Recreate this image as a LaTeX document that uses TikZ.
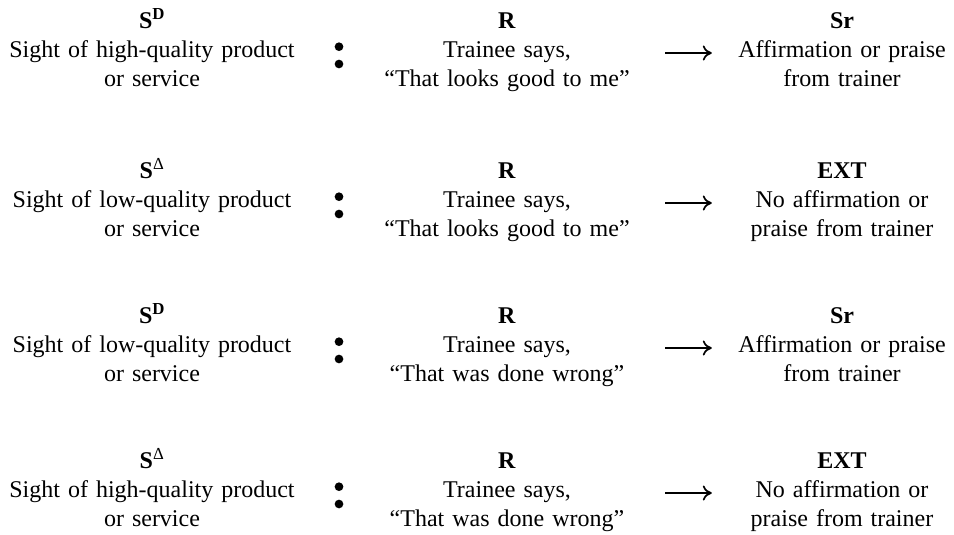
\documentclass[tikz,border=0pt]{standalone}
\usepackage{fontspec}
\setmainfont{Liberation Serif}
\usepackage{tikz}
\usetikzlibrary{arrows.meta}
\tikzset{t/.style={align=center,inner sep=0pt,anchor=north,text height=16pt,text depth=65pt,
  font=\fontsize{24}{28.8}\selectfont}}
\tikzset{sl/.style={t,text width=300pt}}
\tikzset{rl/.style={t,text width=260pt}}
\tikzset{cl/.style={t,text width=214pt}}
\tikzset{pt/.style={circle,fill,inner sep=0pt,minimum size=8.7pt}}
\tikzset{go/.style={-{To[length=9pt,width=15pt]},line width=1.7pt,shorten <=28pt,shorten >=23pt}}
\newcommand{\SD}{\textbf{S\textsuperscript{D}}}
\newcommand{\SDelta}{\textbf{S}\textsuperscript{Δ}}

\begin{document}
\begin{tikzpicture}[x=1pt,y=1pt]
      \useasboundingbox (0,0) rectangle (954,-535);
      % row 1
      \node[sl] (S1) at (152,-12.3) {\SD\\Sight of high-quality product\\or service};
      \node[rl] (R1) at (507,-12.3) {\textbf{R}\\Trainee says,\\“That looks good to me”};
      \node[cl] (C1) at (842,-12.3) {\textbf{Sr}\\Affirmation or praise\\from trainer};
      \node[pt] (D1) at (339,-46.7) {};
      \node[pt] (D1') at (339,-64) {};
      \path (R1) edge [go] (C1);
      % row 2
      \node[sl] (S2) at (152,-162.3) {\SDelta\\Sight of low-quality product\\or service};
      \node[rl] (R2) at (507,-162.3) {\textbf{R}\\Trainee says,\\“That looks good to me”};
      \node[cl] (C2) at (842,-162.3) {\textbf{EXT}\\No affirmation or\\praise from trainer};
      \node[pt] (D2) at (339,-196.7) {};
      \node[pt] (D2') at (339,-214) {};
      \path (R2) edge [go] (C2);
      % row 3
      \node[sl] (S3) at (152,-307.3) {\SD\\Sight of low-quality product\\or service};
      \node[rl] (R3) at (507,-307.3) {\textbf{R}\\Trainee says,\\“That was done wrong”};
      \node[cl] (C3) at (842,-307.3) {\textbf{Sr}\\Affirmation or praise\\from trainer};
      \node[pt] (D3) at (339,-341.7) {};
      \node[pt] (D3') at (339,-359) {};
      \path (R3) edge [go] (C3);
      % row 4
      \node[sl] (S4) at (152,-452.3) {\SDelta\\Sight of high-quality product\\or service};
      \node[rl] (R4) at (507,-452.3) {\textbf{R}\\Trainee says,\\“That was done wrong”};
      \node[cl] (C4) at (842,-452.3) {\textbf{EXT}\\No affirmation or\\praise from trainer};
      \node[pt] (D4) at (339,-486.7) {};
      \node[pt] (D4') at (339,-504) {};
      \path (R4) edge [go] (C4);
    \end{tikzpicture}
\end{document}
